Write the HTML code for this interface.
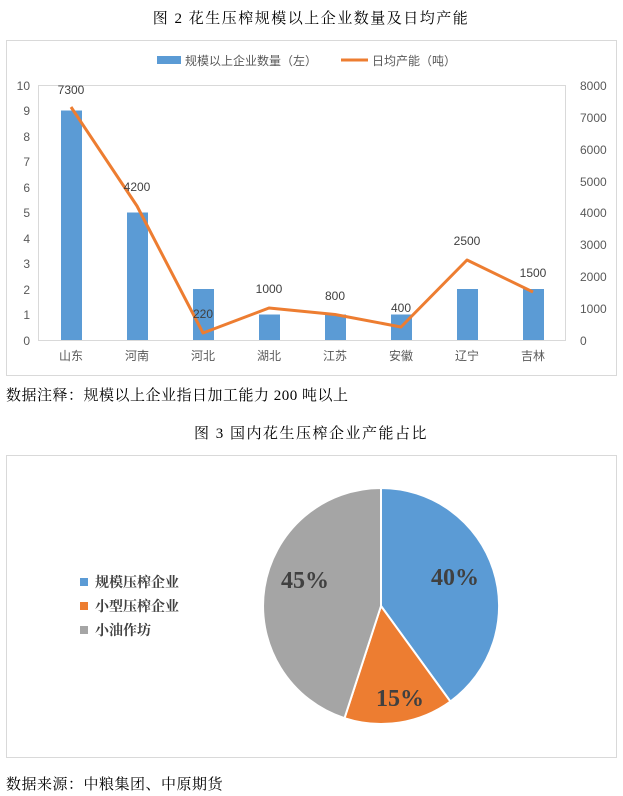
<!DOCTYPE html>
<html><head><meta charset="utf-8"><style>
body{margin:0;background:#fff;width:623px;height:796px;overflow:hidden}
</style></head><body>
<svg width="623" height="796" xmlns="http://www.w3.org/2000/svg" style="position:absolute;left:0;top:0">
<g font-family="Liberation Serif, 'Noto Serif CJK SC', serif" fill="#000">
<text x="311" y="23" font-size="15" text-anchor="middle" letter-spacing="1.5">图 2  花生压榨规模以上企业数量及日均产能</text>
<text x="6" y="400" font-size="15" letter-spacing="0.5">数据注释：规模以上企业指日加工能力 200 吨以上</text>
<text x="311" y="438" font-size="15" text-anchor="middle" letter-spacing="1.5">图 3  国内花生压榨企业产能占比</text>
<text x="6" y="789" font-size="15" letter-spacing="0.5">数据来源：中粮集团、中原期货</text>
</g>
<rect x="6.5" y="40.5" width="610" height="335" fill="none" stroke="#d9d9d9"/>
<g font-family="Liberation Sans, 'Noto Sans CJK SC', sans-serif" font-size="12" fill="#595959">
<rect x="157" y="56" width="24" height="8" fill="#5b9bd5"/>
<text x="185" y="65">规模以上企业数量（左）</text>
<line x1="341" y1="60" x2="368" y2="60" stroke="#ed7d31" stroke-width="3"/>
<text x="372" y="65">日均产能（吨）</text>
<rect x="38.5" y="85.5" width="527" height="255" fill="none" stroke="#d9d9d9"/>
<g text-anchor="end">
<text x="30" y="90">10</text><text x="30" y="115">9</text>
<text x="30" y="141">8</text><text x="30" y="166">7</text><text x="30" y="192">6</text><text x="30" y="217">5</text>
<text x="30" y="243">4</text><text x="30" y="268">3</text><text x="30" y="294">2</text><text x="30" y="319">1</text><text x="30" y="345">0</text>
</g>
<g>
<text x="580" y="90">8000</text><text x="580" y="122">7000</text><text x="580" y="154">6000</text><text x="580" y="186">5000</text>
<text x="580" y="217">4000</text><text x="580" y="249">3000</text><text x="580" y="281">2000</text><text x="580" y="313">1000</text><text x="580" y="345">0</text>
</g>
<g fill="#5b9bd5">
<rect x="61" y="110.5" width="21" height="229.5"/><rect x="127" y="212.5" width="21" height="127.5"/>
<rect x="193" y="289" width="21" height="51"/><rect x="259" y="314.5" width="21" height="25.5"/>
<rect x="325" y="314.5" width="21" height="25.5"/><rect x="391" y="314.5" width="21" height="25.5"/>
<rect x="457" y="289" width="21" height="51"/><rect x="523" y="289" width="21" height="51"/>
</g>
<polyline points="71,107 137,206 203,333 269,308 335,314.5 401,327 467,260 533,292" fill="none" stroke="#ed7d31" stroke-width="3" stroke-linejoin="round"/>
<g text-anchor="middle" fill="#404040">
<text x="71" y="94">7300</text><text x="137" y="191">4200</text><text x="203" y="318">220</text>
<text x="269" y="293">1000</text><text x="335" y="300">800</text><text x="401" y="312">400</text>
<text x="467" y="245">2500</text><text x="533" y="277">1500</text>
</g>
<g text-anchor="middle">
<text x="71" y="360">山东</text><text x="137" y="360">河南</text><text x="203" y="360">河北</text><text x="269" y="360">湖北</text>
<text x="335" y="360">江苏</text><text x="401" y="360">安徽</text><text x="467" y="360">辽宁</text><text x="533" y="360">吉林</text>
</g>
</g>
<rect x="6.5" y="455.5" width="610" height="302" fill="none" stroke="#d9d9d9"/>
<g stroke="#fff" stroke-width="2">
<path d="M381,606 L381,488 A118,118 0 0 1 450.4,701.5 Z" fill="#5b9bd5"/>
<path d="M381,606 L450.4,701.5 A118,118 0 0 1 344.5,718.2 Z" fill="#ed7d31"/>
<path d="M381,606 L344.5,718.2 A118,118 0 0 1 381,488 Z" fill="#a5a5a5"/>
</g>
<g font-family="Liberation Serif, 'Noto Serif CJK SC', serif" font-weight="bold" fill="#404040">
<text x="455" y="585" font-size="24" text-anchor="middle">40%</text>
<text x="400" y="706" font-size="24" text-anchor="middle">15%</text>
<text x="305" y="588" font-size="24" text-anchor="middle">45%</text>
<g font-size="14">
<rect x="80" y="578" width="8" height="8" fill="#5b9bd5"/><text x="95" y="587">规模压榨企业</text>
<rect x="80" y="602" width="8" height="8" fill="#ed7d31"/><text x="95" y="611">小型压榨企业</text>
<rect x="80" y="626" width="8" height="8" fill="#a5a5a5"/><text x="95" y="635">小油作坊</text>
</g>
</g>
</svg>
</body></html>
